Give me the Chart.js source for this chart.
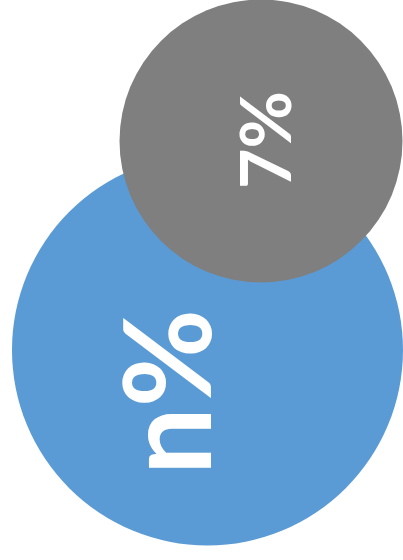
<!DOCTYPE html>
<html>
<head>
<meta charset="utf-8">
<script src="https://cdn.jsdelivr.net/npm/chart.js@4"></script>
<style>
  html, body { margin: 0; padding: 0; background: #fff; }
  #wrap { width: 403px; height: 560px; }
</style>
</head>
<body>
<div id="wrap"><canvas id="bubbles"></canvas></div>
<script>
// data (pixel-like units)
const labels = ["n%", "7%"];
const xValues = [207.5, 261];
const yValues = [350, 141];
const radii = [195.5, 141.5];
const colors = ["#5b9bd5", "#7f7f7f"];

// text placement: baseline x, centre y, font size
const labelStyle = [
  { x: 211, y: 392, size: 120 },
  { x: 291, y: 140, size: 70 },
];

const rotatedLabels = {
  id: "rotatedLabels",
  afterDatasetsDraw(chart) {
    const ctx = chart.ctx;
    const xs = chart.scales.x;
    const ys = chart.scales.y;
    labels.forEach((txt, i) => {
      const s = labelStyle[i];
      ctx.save();
      ctx.translate(xs.getPixelForValue(s.x), ys.getPixelForValue(s.y));
      ctx.rotate(-Math.PI / 2);
      ctx.fillStyle = "#ffffff";
      ctx.font = "bold " + s.size + "px Lato";
      ctx.textAlign = "center";
      ctx.textBaseline = "alphabetic";
      ctx.fillText(txt, 0, 0);
      ctx.restore();
    });
  },
};

new Chart("bubbles", {
  type: "bubble",
  data: {
    datasets: labels.map((l, i) => ({
      label: l,
      data: [{ x: xValues[i], y: yValues[i], r: radii[i] }],
      backgroundColor: colors[i],
      borderWidth: 0,
      hoverRadius: 0,
      clip: false,
      order: labels.length - i, // later circle drawn on top
    })),
  },
  options: {
    responsive: true,
    maintainAspectRatio: false,
    animation: false,
    events: [],
    layout: { padding: 0, autoPadding: false },
    plugins: { legend: { display: false }, tooltip: { enabled: false } },
    scales: {
      x: { type: "linear", min: 0, max: 403, display: false },
      y: { type: "linear", min: 0, max: 560, reverse: true, display: false },
    },
  },
  plugins: [rotatedLabels],
});
</script>
</body>
</html>
